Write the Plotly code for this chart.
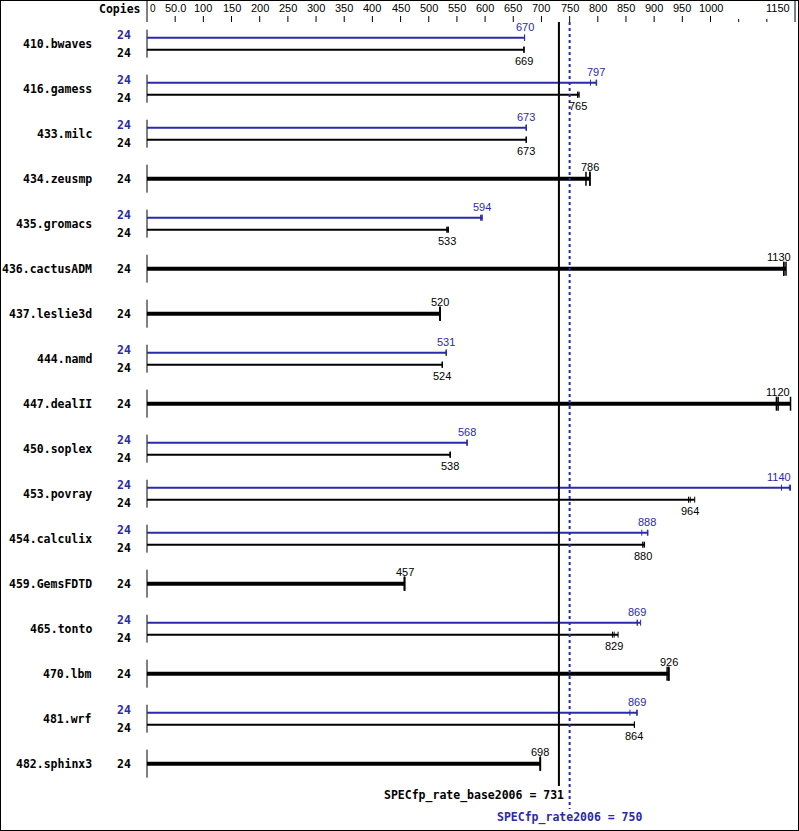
import plotly.graph_objects as go

# SPEC CPU2006 floating point rate results (base = black, peak = blue)
benchmarks = ["410.bwaves", "416.gamess", "433.milc", "434.zeusmp", "435.gromacs",
              "436.cactusADM", "437.leslie3d", "444.namd", "447.dealII", "450.soplex",
              "453.povray", "454.calculix", "459.GemsFDTD", "465.tonto", "470.lbm",
              "481.wrf", "482.sphinx3"]
base_copies = [24] * 17
peak_copies = [24, 24, 24, None, 24, None, None, 24, None, 24, 24, 24, None, 24, None, 24, None]
base_ratio = [669, 765, 673, 786, 533, 1130, 520, 524, 1120, 538, 964, 880, 457, 829, 926, 864, 698]
peak_ratio = [670, 797, 673, None, 594, None, None, 531, None, 568, 1140, 888, None, 869, None, 869, None]
# individual run results (3 runs per benchmark)
base_runs = [[669, 669, 669], [764, 765, 767], [673, 673, 673], [779, 786, 786],
             [532, 533, 535], [1130, 1130, 1134], [520, 520, 520], [524, 524, 524],
             [1117, 1120, 1142], [538, 538, 538], [961, 964, 972], [880, 880, 883],
             [457, 457, 457], [826, 829, 836], [923, 926, 926], [865, 865, 865],
             [698, 698, 698]]
peak_runs = [[670, 670, 670], [787, 797, 798], [673, 673, 673], None,
             [592, 594, 595], None, None, [531, 531, 531],
             None, [568, 568, 568], [1126, 1140, 1142], [878, 888, 889],
             None, [870, 870, 876], None, [857, 869, 870],
             None]
base_overall = 731
peak_overall = 750
tick_vals = [0, 50, 100, 150, 200, 250, 300, 350, 400, 450, 500, 550, 600, 650,
             700, 750, 800, 850, 900, 950, 1000, 1150]
tick_labels = ["0", "50.0", "100", "150", "200", "250", "300", "350", "400", "450",
               "500", "550", "600", "650", "700", "750", "800", "850", "900", "950",
               "1000", "1150"]
minor_ticks = [1050, 1100]

BLUE = "#2a2aaa"
BLACK = "#000000"
W, H = 799, 831
X0, XS = 147, 0.5635   # pixel of value 0, pixels per unit
Y0, ROW = 43.7, 45     # pixel of first row centre, row pitch
LABEL_MAX_PX = 779     # value labels are pushed left so they stay inside the frame


def dx(p):
    return p / XS


def dy(p):
    return p / ROW


def ypx(p):
    return (p - Y0) / ROW


def value_x(v):
    return min(v, (LABEL_MAX_PX - X0) / XS)


MONO = "DejaVu Sans Mono"
SANS = "Liberation Sans"

fig = go.Figure()


def segs(pairs):
    xs, ys = [], []
    for (xa, ya), (xb, yb) in pairs:
        xs += [xa, xb, None]
        ys += [ya, yb, None]
    return xs, ys


def add_segs(pairs, color, width, dash=None):
    xs, ys = segs(pairs)
    fig.add_trace(go.Scatter(x=xs, y=ys, mode="lines", hoverinfo="skip",
                             line=dict(color=color, width=width, dash=dash)))


annotations = []


def label(x, y, text, color=BLACK, size=11, family=SANS, anchor="center", bold=False):
    if bold:
        text = "<b>" + text + "</b>"
    annotations.append(dict(x=x, y=y, xref="x", yref="y", text=text, showarrow=False,
                            xanchor=anchor, yanchor="middle", borderpad=0,
                            font=dict(family=family, size=size, color=color)))


thin_black, thin_blue, thick_black = [], [], []
tick_black, tick_blue, tick_thick, row_ticks = [], [], [], []

for i, name in enumerate(benchmarks):
    row_ticks.append(((0, i - dy(14)), (0, i + dy(14))))
    label(-dx(54), i, name, family=MONO, size=11.5, anchor="right", bold=True)
    if peak_runs[i] is None:
        runs = base_runs[i]
        thick_black.append(((0, i), (max(runs), i)))
        for r in runs:
            tick_thick.append(((r, i - dy(7)), (r, i + dy(7))))
        label(-dx(23), i, str(base_copies[i]), family=MONO, size=11.5, bold=True)
        label(value_x(base_ratio[i]), i - dy(12), str(base_ratio[i]))
    else:
        yp, yb = i - dy(6), i + dy(6)
        thin_blue.append(((0, yp), (max(peak_runs[i]), yp)))
        thin_black.append(((0, yb), (max(base_runs[i]), yb)))
        for r in peak_runs[i]:
            tick_blue.append(((r, yp - dy(3)), (r, yp + dy(3))))
        for r in base_runs[i]:
            tick_black.append(((r, yb - dy(3)), (r, yb + dy(3))))
        label(-dx(23), i - dy(8.5), str(peak_copies[i]), color=BLUE, family=MONO, size=11.5, bold=True)
        label(-dx(23), i + dy(9.5), str(base_copies[i]), family=MONO, size=11.5, bold=True)
        label(value_x(peak_ratio[i]), i - dy(16.5), str(peak_ratio[i]), color=BLUE)
        label(value_x(base_ratio[i]), i + dy(17), str(base_ratio[i]))

add_segs(row_ticks, BLACK, 1)
add_segs(thin_blue, BLUE, 2)
add_segs(thin_black, BLACK, 2)
add_segs(thick_black, BLACK, 4)
add_segs(tick_blue, BLUE, 1)
add_segs(tick_black, BLACK, 1)
add_segs(tick_thick, BLACK, 1.5)

# reference lines for the overall results
add_segs([((base_overall, ypx(22)), (base_overall, ypx(786)))], BLACK, 2)
add_segs([((peak_overall, ypx(22)), (peak_overall, ypx(809)))], BLUE, 2, dash="dot")
label(base_overall + dx(6), ypx(795), "SPECfp_rate_base2006 = %d" % base_overall,
      family=MONO, size=11.5, anchor="right", bold=True)
label(peak_overall, ypx(817), "SPECfp_rate2006 = %d" % peak_overall,
      color=BLUE, family=MONO, size=11.5, bold=True)

# top scale
axis_ticks = [((0, ypx(0)), (0, ypx(22)))]
for v in tick_vals[1:-1]:
    axis_ticks.append(((v, ypx(16)), (v, ypx(22))))
axis_ticks.append(((tick_vals[-1], ypx(0)), (tick_vals[-1], ypx(22))))
for v in minor_ticks:
    axis_ticks.append(((v, ypx(19)), (v, ypx(22))))
add_segs(axis_ticks, BLACK, 1)
for v, t in zip(tick_vals, tick_labels):
    if v == 0:
        label(v + dx(2), ypx(8), t, anchor="left", size=10)
    elif v == tick_vals[-1]:
        label(v - dx(4), ypx(8), t, anchor="right")
    else:
        label(v, ypx(8), t)
label(-dx(5), ypx(9), "Copies", family=MONO, size=11.5, anchor="right", bold=True)

fig.update_layout(
    width=W, height=H, autosize=False,
    margin=dict(l=0, r=0, t=0, b=0, pad=0),
    paper_bgcolor="white", plot_bgcolor="white",
    showlegend=False,
    xaxis=dict(range=[-X0 / XS, (W - X0) / XS], visible=False, fixedrange=True),
    yaxis=dict(range=[ypx(H), ypx(0)], visible=False, fixedrange=True),
    annotations=annotations,
    shapes=[dict(type="rect", xref="paper", yref="paper", x0=0, x1=1, y0=0, y1=1,
                 line=dict(color=BLACK, width=2))],
)

fig.write_html("out.html", config={"displayModeBar": False},
               post_script="document.body.style.margin='0';document.body.style.overflow='hidden';")
